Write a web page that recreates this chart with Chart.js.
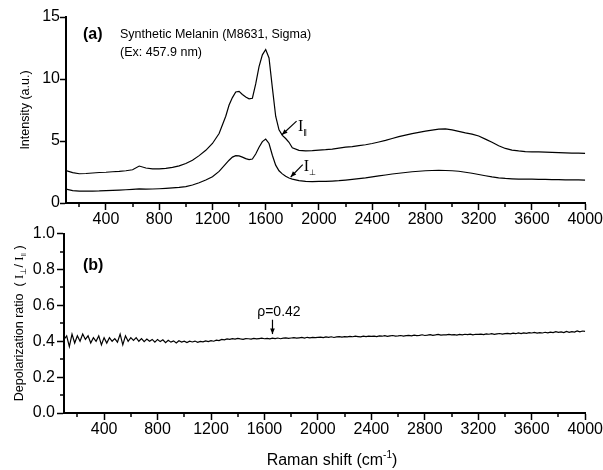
<!DOCTYPE html>
<html lang="en">
<head>
<meta charset="UTF-8">
<title>Synthetic Melanin - Raman Depolarization</title>
<script src="https://cdn.jsdelivr.net/npm/chart.js"></script>
<style>
  body { margin: 0; background: #fff; }
  #wrap { position: relative; width: 603px; height: 470px; }
  canvas { position: absolute; left: 0; }
  #spectra { top: 0; }
  #ratio { top: 222px; }
</style>
</head>
<body>
<div id="wrap">
  <canvas id="spectra" width="603" height="226"></canvas>
  <canvas id="ratio" width="603" height="248"></canvas>
</div>
<script>
// Raman shift (cm-1) for the two polarized spectra
const shift = [
  100, 150, 200, 250, 300, 350, 400, 450, 500, 550, 600, 650, 700, 750, 800, 850,
  900, 950, 1000, 1050, 1100, 1150, 1200, 1250,
  1300, 1325, 1350, 1375, 1400, 1425, 1450, 1475, 1500, 1525, 1550, 1575, 1600,
  1625, 1650, 1675, 1700, 1725, 1750, 1775, 1800,
  1850, 1900, 1950, 2000, 2050, 2100, 2150, 2200, 2250, 2300, 2350, 2400, 2450,
  2500, 2550, 2600, 2650, 2700, 2750, 2800, 2850, 2900, 2950, 3000, 3050, 3100,
  3150, 3200, 3250, 3300, 3350, 3400, 3450, 3500, 3550, 3600, 3650, 3700, 3750,
  3800, 3850, 3900, 3950, 4000
];

// parallel polarized intensity (a.u.)
const iPar = [
  2.62, 2.45, 2.36, 2.38, 2.42, 2.46, 2.48, 2.52, 2.55, 2.6, 2.68, 2.98, 2.82, 2.76, 2.75, 2.8,
  2.88, 3.0, 3.18, 3.45, 3.82, 4.25, 4.8, 5.6,
  7.0, 7.9, 8.5, 8.95, 9.0, 8.75, 8.55, 8.4, 8.45, 9.6, 11.0, 11.95, 12.38,
  11.7, 9.3, 7.0, 5.9, 5.45, 5.2, 4.9, 4.45,
  4.25, 4.2, 4.22, 4.27, 4.3, 4.35, 4.42, 4.5, 4.55, 4.62, 4.7, 4.8, 4.92,
  5.05, 5.2, 5.35, 5.48, 5.6, 5.7, 5.8, 5.88, 5.95, 5.98, 5.9, 5.78, 5.65,
  5.55, 5.4, 5.15, 4.9, 4.62, 4.4, 4.27, 4.2, 4.15, 4.13, 4.12, 4.1, 4.08,
  4.06, 4.05, 4.03, 4.02, 4.0
];

// perpendicular polarized intensity (a.u.)
const iPerp = [
  1.12, 1.0, 0.96, 0.95, 0.96, 0.97, 1.0, 1.02, 1.04, 1.07, 1.1, 1.14, 1.12, 1.13, 1.15, 1.18,
  1.22, 1.26, 1.32, 1.45, 1.63, 1.85, 2.12, 2.55,
  3.15, 3.45, 3.7, 3.82, 3.8, 3.7, 3.58, 3.5, 3.55, 3.95, 4.5, 4.95, 5.15,
  4.8, 3.85, 3.05, 2.6, 2.35, 2.15, 2.02, 1.93,
  1.8, 1.74, 1.73, 1.74, 1.75, 1.77, 1.8, 1.85, 1.9, 1.96, 2.02, 2.1, 2.18,
  2.26, 2.34, 2.4, 2.46, 2.52, 2.56, 2.6, 2.62, 2.63, 2.62, 2.6, 2.56, 2.48,
  2.4, 2.3, 2.2, 2.1, 2.03, 1.98, 1.95, 1.93, 1.92, 1.92, 1.91, 1.9, 1.89,
  1.88, 1.87, 1.87, 1.86, 1.85
];

// depolarization ratio, sampled every 20 cm-1 from 100 to 4000
const ratioStart = 100;
const ratioStep = 20;
const ratio = [
  0.41, 0.43, 0.37, 0.44, 0.39, 0.43, 0.40, 0.44, 0.41, 0.43,
  0.39, 0.42, 0.40, 0.43, 0.38, 0.42, 0.39, 0.42, 0.40, 0.415,
  0.395, 0.44, 0.38, 0.43, 0.40, 0.42, 0.405, 0.42, 0.40, 0.415,
  0.398, 0.412, 0.40, 0.41, 0.395, 0.41, 0.398, 0.408, 0.392, 0.405,
  0.395, 0.402, 0.39, 0.403, 0.395, 0.40, 0.393, 0.40, 0.396, 0.401,
  0.394, 0.399, 0.397, 0.402, 0.398, 0.403, 0.40, 0.406, 0.404, 0.41,
  0.408, 0.413, 0.411, 0.415, 0.412, 0.416,
  0.413, 0.411, 0.415, 0.414, 0.412, 0.416, 0.413, 0.415, 0.417, 0.414,
  0.416, 0.413, 0.417, 0.415, 0.418, 0.414, 0.417, 0.419, 0.416, 0.418,
  0.42, 0.417, 0.419, 0.421, 0.418, 0.422, 0.419, 0.421, 0.42, 0.422,
  0.423, 0.42, 0.424, 0.422, 0.425, 0.421, 0.424, 0.426, 0.423, 0.426,
  0.424, 0.427, 0.425, 0.428, 0.426, 0.424, 0.428, 0.426, 0.429, 0.427,
  0.429, 0.426, 0.43, 0.428, 0.431, 0.427, 0.43, 0.432, 0.429, 0.43,
  0.432, 0.429, 0.431, 0.433, 0.43, 0.434, 0.431, 0.433, 0.436, 0.432,
  0.434, 0.437, 0.433, 0.435, 0.438, 0.434, 0.436, 0.435, 0.438, 0.435,
  0.437, 0.434, 0.438, 0.436, 0.439, 0.437, 0.44, 0.436, 0.439, 0.438,
  0.44, 0.437, 0.441, 0.439, 0.442, 0.438, 0.441, 0.443, 0.44, 0.442,
  0.444, 0.441, 0.445, 0.442, 0.446, 0.443, 0.447, 0.444, 0.448, 0.446,
  0.449, 0.445, 0.448, 0.446, 0.45, 0.447, 0.451, 0.448, 0.453, 0.449,
  0.452, 0.448, 0.455, 0.45, 0.454, 0.451, 0.458, 0.452, 0.457, 0.455
];

const xTicks = [400, 800, 1200, 1600, 2000, 2400, 2800, 3200, 3600, 4000];
const xMinor = [200, 600, 1000, 1400, 1800, 2200, 2600, 3000, 3400, 3800];
const yTicksA = [0, 5, 10, 15];
const yTicksB = [0, 0.2, 0.4, 0.6, 0.8, 1.0];
const yMinorB = [0.1, 0.3, 0.5, 0.7, 0.9];

const SANS = '"Liberation Sans", Arial, sans-serif';
const SERIF = '"Liberation Serif", "Times New Roman", serif';
const PARALLEL = '\u2016';
const PERP = '\u22A5';
Chart.defaults.font.family = SANS;
Chart.defaults.font.size = 16;
Chart.defaults.color = '#000';

function fixedTicks(values) {
  return scale => { scale.ticks = values.map(v => ({ value: v })); };
}

const axisGrid = len => ({
  drawOnChartArea: false, tickLength: len, tickWidth: 1.5, tickColor: '#000'
});
const axisBorder = { color: '#000', width: 2 };

// short unlabelled ticks between the numbered ones
const minorTicks = {
  id: 'minorTicks',
  afterDraw(chart, args, opts) {
    const { ctx, chartArea: a, scales: { x, y } } = chart;
    ctx.save();
    ctx.strokeStyle = '#000';
    ctx.lineWidth = 1.5;
    ctx.beginPath();
    xMinor.forEach(v => {
      const px = Math.round(x.getPixelForValue(v));
      ctx.moveTo(px, a.bottom);
      ctx.lineTo(px, a.bottom + 4);
    });
    (opts.y || []).forEach(v => {
      const py = Math.round(y.getPixelForValue(v));
      ctx.moveTo(a.left, py);
      ctx.lineTo(a.left - 4, py);
    });
    ctx.stroke();
    ctx.restore();
  }
};

function arrow(ctx, x1, y1, x2, y2) {
  const ang = Math.atan2(y2 - y1, x2 - x1);
  const h = 6;
  ctx.beginPath();
  ctx.moveTo(x1, y1);
  ctx.lineTo(x2, y2);
  ctx.stroke();
  ctx.beginPath();
  ctx.moveTo(x2, y2);
  ctx.lineTo(x2 - h * Math.cos(ang - 0.4), y2 - h * Math.sin(ang - 0.4));
  ctx.lineTo(x2 - h * Math.cos(ang + 0.4), y2 - h * Math.sin(ang + 0.4));
  ctx.closePath();
  ctx.fill();
}

// text runs with their own font and vertical offset (sub/superscripts)
function runsWidth(ctx, runs) {
  return runs.reduce((w, r) => { ctx.font = r.font; return w + ctx.measureText(r.t).width; }, 0);
}
function drawRuns(ctx, runs, x, y) {
  let cx = x;
  runs.forEach(r => {
    ctx.font = r.font;
    ctx.fillText(r.t, cx, y + (r.dy || 0));
    cx += ctx.measureText(r.t).width;
  });
}

const spectraNotes = {
  id: 'spectraNotes',
  afterDraw(chart) {
    const { ctx, chartArea: a, scales: { x, y } } = chart;
    ctx.save();
    ctx.fillStyle = '#000';
    ctx.strokeStyle = '#000';
    ctx.lineWidth = 1.2;
    ctx.textBaseline = 'alphabetic';
    ctx.font = 'bold 16px ' + SANS;
    ctx.fillText('(a)', a.left + 17, 39);
    ctx.font = '12.5px ' + SANS;
    ctx.fillText('Synthetic Melanin (M8631, Sigma)', a.left + 54, 38);
    ctx.fillText('(Ex: 457.9 nm)', a.left + 54, 56);

    arrow(ctx, x.getPixelForValue(1832), y.getPixelForValue(6.6),
               x.getPixelForValue(1722), y.getPixelForValue(5.5));
    drawRuns(ctx, [
      { t: 'I', font: '16px ' + SERIF },
      { t: PARALLEL, font: '9px ' + SANS, dy: 5 }
    ], x.getPixelForValue(1842), y.getPixelForValue(5.8));

    arrow(ctx, x.getPixelForValue(1878), y.getPixelForValue(3.1),
               x.getPixelForValue(1788), y.getPixelForValue(2.1));
    drawRuns(ctx, [
      { t: 'I', font: '16px ' + SERIF },
      { t: PERP, font: '8px ' + SANS, dy: 4 }
    ], x.getPixelForValue(1885), y.getPixelForValue(2.58));
    ctx.restore();
  }
};

const ratioNotes = {
  id: 'ratioNotes',
  afterDraw(chart) {
    const { ctx, chartArea: a, scales: { x, y } } = chart;
    ctx.save();
    ctx.fillStyle = '#000';
    ctx.strokeStyle = '#000';
    ctx.lineWidth = 1.2;
    ctx.textBaseline = 'alphabetic';
    ctx.font = 'bold 16px ' + SANS;
    ctx.fillText('(b)', a.left + 19, 48);

    ctx.font = '14px ' + SANS;
    ctx.textAlign = 'center';
    ctx.fillText('\u03C1=0.42', x.getPixelForValue(1708), y.getPixelForValue(0.538));
    ctx.textAlign = 'left';
    arrow(ctx, x.getPixelForValue(1660), y.getPixelForValue(0.52),
               x.getPixelForValue(1660), y.getPixelForValue(0.44));

    // x axis title with superscript
    const xt = [
      { t: 'Raman shift (cm', font: '16px ' + SANS },
      { t: '-1', font: '10px ' + SANS, dy: -7 },
      { t: ')', font: '16px ' + SANS }
    ];
    drawRuns(ctx, xt, 332 - runsWidth(ctx, xt) / 2, 243);

    // y axis title with subscripts, rotated
    const yt = [
      { t: 'Depolarization ratio  ( ', font: '12.5px ' + SANS },
      { t: 'I', font: '13px ' + SERIF },
      { t: PERP, font: '8px ' + SANS, dy: 3 },
      { t: '/ ', font: '12.5px ' + SANS },
      { t: 'I', font: '13px ' + SERIF },
      { t: PARALLEL, font: '8px ' + SANS, dy: 3 },
      { t: ' )', font: '12.5px ' + SANS }
    ];
    ctx.translate(23, (a.top + a.bottom) / 2);
    ctx.rotate(-Math.PI / 2);
    drawRuns(ctx, yt, -runsWidth(ctx, yt) / 2, 0);
    ctx.restore();
  }
};

const lineStyle = { borderColor: '#000', borderWidth: 1.2, pointRadius: 0, fill: false };

new Chart(document.getElementById('spectra'), {
  type: 'line',
  data: {
    datasets: [
      { label: 'I parallel', data: shift.map((s, i) => ({ x: s, y: iPar[i] })), ...lineStyle },
      { label: 'I perpendicular', data: shift.map((s, i) => ({ x: s, y: iPerp[i] })), ...lineStyle }
    ]
  },
  options: {
    responsive: false,
    animation: false,
    layout: { padding: { top: 17, right: 14, bottom: 0, left: 0 } },
    plugins: { legend: { display: false }, tooltip: { enabled: false } },
    scales: {
      x: {
        type: 'linear', min: 100, max: 4000,
        afterBuildTicks: fixedTicks(xTicks),
        afterFit: s => { s.height = 23; },
        ticks: { callback: v => String(v), padding: 0, maxRotation: 0, autoSkip: false },
        grid: axisGrid(7), border: axisBorder
      },
      y: {
        min: 0, max: 15,
        afterBuildTicks: fixedTicks(yTicksA),
        afterFit: s => { s.width = 66; },
        ticks: { callback: v => String(v), padding: 0 },
        grid: axisGrid(6), border: axisBorder,
        title: { display: true, text: 'Intensity (a.u.)', font: { size: 12.5 }, padding: { top: 18, bottom: 0 } }
      }
    }
  },
  plugins: [minorTicks, spectraNotes]
});

new Chart(document.getElementById('ratio'), {
  type: 'line',
  data: {
    datasets: [
      { label: 'Depolarization ratio', data: ratio.map((r, i) => ({ x: ratioStart + i * ratioStep, y: r })), ...lineStyle }
    ]
  },
  options: {
    responsive: false,
    animation: false,
    layout: { padding: { top: 9, right: 16, bottom: 0, left: 0 } },
    plugins: { legend: { display: false }, tooltip: { enabled: false }, minorTicks: { y: yMinorB } },
    scales: {
      x: {
        type: 'linear', min: 100, max: 4000,
        afterBuildTicks: fixedTicks(xTicks),
        afterFit: s => { s.height = 57; },
        ticks: { callback: v => String(v), padding: 0, maxRotation: 0, autoSkip: false },
        grid: axisGrid(7), border: axisBorder
      },
      y: {
        min: 0, max: 1,
        afterBuildTicks: fixedTicks(yTicksB),
        afterFit: s => { s.width = 64; },
        ticks: { callback: v => v.toFixed(1), padding: 2 },
        grid: axisGrid(7), border: axisBorder
      }
    }
  },
  plugins: [minorTicks, ratioNotes]
});
</script>
</body>
</html>
